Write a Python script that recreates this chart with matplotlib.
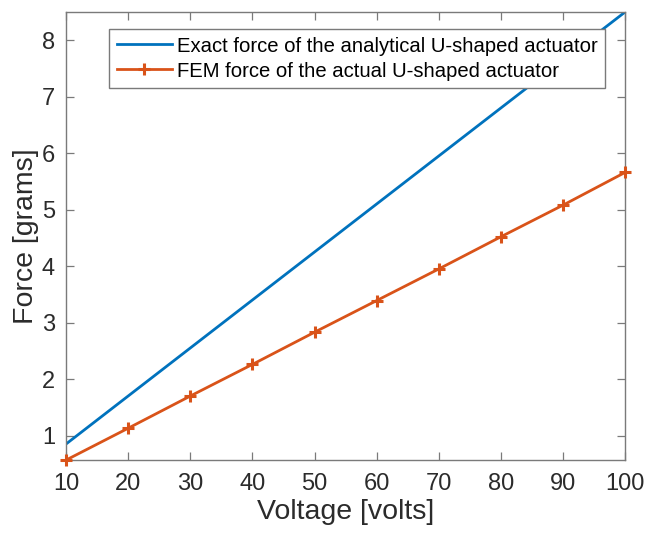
import numpy as np
import matplotlib.pyplot as plt

plt.rcParams['font.family'] = ['Liberation Sans', 'DejaVu Sans']

voltage = [10, 20, 30, 40, 50, 60, 70, 80, 90, 100]
exact_force = [0.85, 1.70, 2.55, 3.40, 4.25, 5.10, 5.95, 6.80, 7.65, 8.50]
fem_force = [0.566, 1.13, 1.70, 2.26, 2.83, 3.39, 3.95, 4.52, 5.08, 5.66]

fig = plt.figure(figsize=(6.62, 5.35), dpi=100)
ax = fig.add_axes([0.0997, 0.140, 0.845, 0.838])

ax.plot(voltage, exact_force, color="#0072BD", lw=2.0,
        label="Exact force of the analytical U-shaped actuator")
ax.plot(voltage, fem_force, color="#D95319", lw=2.0, marker="+", ms=9, mew=2.2,
        clip_on=False, zorder=3,
        label="FEM force of the actual U-shaped actuator")

ax.set_xlim(10, 100)
ax.set_ylim(min(fem_force), max(exact_force))
ax.set_xticks(np.arange(10, 101, 10))
ax.set_yticks(np.arange(1, 9, 1))

for s in ax.spines.values():
    s.set_color("#7a7a7a")
    s.set_linewidth(1.0)
ax.tick_params(direction="in", length=6, width=0.9, color="#7a7a7a",
               labelsize=17, labelcolor="#2b2b2b", top=True, right=True)
ax.tick_params(axis="x", pad=9)
ax.tick_params(axis="y", pad=8)

ax.set_xlabel("Voltage [volts]", fontsize=20.5, color="#2b2b2b", labelpad=3)
ax.set_ylabel("Force [grams]", fontsize=20.5, color="#2b2b2b", labelpad=2)

# opaque legend box, the blue line passes behind it
leg = ax.legend(loc="upper left", bbox_to_anchor=(0.077, 0.962), fontsize=14.6,
                frameon=True, fancybox=False, framealpha=1.0, handlelength=2.7,
                borderpad=0.38, labelspacing=0.3, handletextpad=0.25,
                borderaxespad=0)
leg.get_frame().set_edgecolor("#7a7a7a")
leg.get_frame().set_linewidth(1.0)

fig.savefig("out.png", dpi=100)
